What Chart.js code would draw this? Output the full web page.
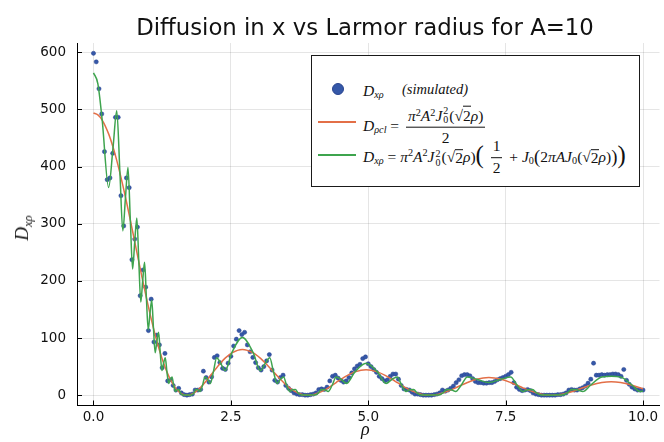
<!DOCTYPE html>
<html>
<head>
<meta charset="utf-8">
<script src="https://cdn.jsdelivr.net/npm/chart.js@4.4.1/dist/chart.umd.min.js"></script>
<style>
  html, body { margin: 0; padding: 0; background: #fff; }
  #wrap { position: relative; width: 664px; height: 442px; }
  #myChart { position: absolute; left: 0; top: 0; }
  .serif { font-family: "Liberation Serif", "DejaVu Serif", serif; color: #111; }
  .title { position: absolute; left: 73px; width: 584px; top: 14px; text-align: center;
           font-family: "DejaVu Sans", sans-serif; font-size: 22.8px; color: #111; white-space: nowrap; }
  .xlab { position: absolute; left: 361px; top: 419px; font-size: 18px; font-style: italic; }
  .ylab { position: absolute; left: 22px; top: 228px; font-size: 19px; transform: translate(-50%, -50%) rotate(-90deg); white-space: nowrap; }
  .legend { position: absolute; left: 311px; top: 55px; width: 329px; height: 132px; box-sizing: border-box;
            border: 1.4px solid #1a1a1a; background: #fff; font-size: 15.5px; }
  .row { position: absolute; display: flex; align-items: center; white-space: nowrap; transform: translateY(-50%); }
  .sb { font-size: 0.66em; position: relative; top: 0.35em; }
  .sp { font-size: 0.66em; position: relative; top: -0.45em; }
  .ss { display: inline-block; position: relative; width: 7px; height: 15px; vertical-align: baseline; }
  .ss span { position: absolute; left: 1px; font-size: 10px; line-height: 1; }
  .ss .u { top: 0px; }
  .ss .l { top: 9px; }
  .fr { display: inline-flex; flex-direction: column; align-items: center; margin: 0 3px; }
  .fr > span:first-child { border-bottom: 1px solid #111; padding: 0 2px 2px; line-height: 1.15; }
  .fr > span:last-child { line-height: 1.15; padding-top: 1px; }
  .ov { border-top: 1px solid #111; line-height: 1; }
  .big { font-size: 1.6em; line-height: 1; position: relative; top: -1px; }
  .mid { font-size: 1.2em; line-height: 1; }
  .sw { position: absolute; height: 2px; }
  .dot { position: absolute; width: 12px; height: 12px; border-radius: 50%; background: #3558a8; box-sizing: border-box; border: 1px solid #2a4590; }
</style>
</head>
<body>
<div id="wrap">
  <canvas id="myChart" width="664" height="442"></canvas>
  <div class="title">Diffusion in x vs Larmor radius for A=10</div>
  <div class="serif xlab">ρ</div>
  <div class="serif ylab"><i>D</i><span class="sb"><i>xρ</i></span></div>
  <div class="serif legend">
    <div class="dot" style="left:19.7px; top:27.3px;"></div>
    <div class="row" style="left:51px; top:35px;"><i>D</i><span class="sb"><i>xρ</i></span></div>
    <div class="row" style="left:90px; top:33px; font-size:14.5px;"><i>(simulated)</i></div>

    <div class="sw" style="left:6px; width:38px; top:65px; background:#e36f47;"></div>
    <div class="row" style="left:51px; top:70px;">
      <i>D</i><span class="sb"><i>ρcl</i></span>&nbsp;=&nbsp;
      <span class="fr"><span><i>π</i><span class="sp">2</span><i>A</i><span class="sp">2</span><i>J</i><span class="ss"><span class="u">2</span><span class="l">0</span></span>(√<span class="ov">2</span><i>ρ</i>)</span><span>2</span></span>
    </div>

    <div class="sw" style="left:6px; width:38px; top:98px; background:#3ea44e;"></div>
    <div class="row" style="left:51px; top:101px;">
      <i>D</i><span class="sb"><i>xρ</i></span>&nbsp;=&nbsp;<i>π</i><span class="sp">2</span><i>A</i><span class="sp">2</span><i>J</i><span class="ss"><span class="u">2</span><span class="l">0</span></span>(√<span class="ov">2</span><i>ρ</i>)<span class="big">(</span>&nbsp;
      <span class="fr"><span>1</span><span>2</span></span>&nbsp;+&nbsp;<i>J</i><span class="sb">0</span><span class="mid">(</span>2<i>πAJ</i><span class="sb">0</span>(√<span class="ov">2</span><i>ρ</i>)<span class="mid">)</span><span class="big">)</span>
    </div>
  </div>
</div>

<script>
// simulated points
var rhoSim = [
  0, 0.05, 0.1, 0.15, 0.2, 0.25, 0.3, 0.35, 0.4, 0.45, 0.5, 0.55, 0.6, 0.65, 0.7, 0.75, 0.8, 0.85, 0.9, 0.95,
  1, 1.05, 1.1, 1.15, 1.2, 1.25, 1.3, 1.35, 1.4, 1.45, 1.5, 1.55, 1.6, 1.65, 1.7, 1.75, 1.8, 1.85, 1.9, 1.95,
  2, 2.05, 2.1, 2.15, 2.2, 2.25, 2.3, 2.35, 2.4, 2.45, 2.5, 2.55, 2.6, 2.65, 2.7, 2.75, 2.8, 2.85, 2.9, 2.95,
  3, 3.05, 3.1, 3.15, 3.2, 3.25, 3.3, 3.35, 3.4, 3.45, 3.5, 3.55, 3.6, 3.65, 3.7, 3.75, 3.8, 3.85, 3.9, 3.95,
  4, 4.05, 4.1, 4.15, 4.2, 4.25, 4.3, 4.35, 4.4, 4.45, 4.5, 4.55, 4.6, 4.65, 4.7, 4.75, 4.8, 4.85, 4.9, 4.95,
  5, 5.05, 5.1, 5.15, 5.2, 5.25, 5.3, 5.35, 5.4, 5.45, 5.5, 5.55, 5.6, 5.65, 5.7, 5.75, 5.8, 5.85, 5.9, 5.95,
  6, 6.05, 6.1, 6.15, 6.2, 6.25, 6.3, 6.35, 6.4, 6.45, 6.5, 6.55, 6.6, 6.65, 6.7, 6.75, 6.8, 6.85, 6.9, 6.95,
  7, 7.05, 7.1, 7.15, 7.2, 7.25, 7.3, 7.35, 7.4, 7.45, 7.5, 7.55, 7.6, 7.65, 7.7, 7.75, 7.8, 7.85, 7.9, 7.95,
  8, 8.05, 8.1, 8.15, 8.2, 8.25, 8.3, 8.35, 8.4, 8.45, 8.5, 8.55, 8.6, 8.65, 8.7, 8.75, 8.8, 8.85, 8.9, 8.95,
  9, 9.05, 9.1, 9.15, 9.2, 9.25, 9.3, 9.35, 9.4, 9.45, 9.5, 9.55, 9.6, 9.65, 9.7, 9.75, 9.8, 9.85, 9.9, 9.95,
  10
];
var dSim = [
  598, 583, 536, 492, 426, 377, 380, 423, 486, 486, 349, 296, 380, 363, 237, 273, 294, 174, 219, 189,
  113, 168, 93, 105, 88, 48, 73, 25, 27, 17, 9, 12, 4, 1, 0, 1, 2, 9, 9, 10,
  42, 31, 23, 32, 66, 69, 57, 47, 45, 56, 68, 86, 98, 113, 106, 110, 88, 76, 66, 57,
  48, 44, 50, 60, 71, 44, 26, 23, 31, 35, 17, 12, 8, 4, 2, 1, 1, 0, 0, 1,
  2, 4, 10, 11, 10, 14, 25, 33, 35, 30, 26, 23, 25, 31, 39, 46, 51, 54, 64, 67,
  55, 50, 45, 40, 33, 29, 25, 27, 33, 37, 37, 28, 17, 11, 10, 9, 5, 2, 2, 1,
  0, 0, 0, 0, 1, 2, 4, 9, 7, 9, 12, 16, 22, 27, 34, 36, 36, 34, 29, 24,
  22, 22, 21, 21, 22, 22, 24, 27, 29, 31, 33, 36, 40, 22, 14, 10, 8, 9, 10, 8,
  4, 2, 1, 0, 0, 0, 0, 0, 0, 1, 1, 2, 4, 9, 10, 9, 9, 11, 13, 16,
  21, 28, 56, 35, 35, 36, 35, 36, 36, 37, 37, 36, 33, 45, 26, 19, 14, 11, 9, 9,
  9
];

// theory curves, sampled at their turning points
var rhoCurve = [
  0, 0.08, 0.1582, 0.2755, 0.3563, 0.4233, 0.4812, 0.5341, 0.5823, 0.6279, 0.6705, 0.7116, 0.7506, 0.7887,
  0.825, 0.861, 0.8955, 0.9297, 0.9628, 0.9959, 1.0278, 1.06, 1.0913, 1.1228, 1.1535, 1.1846, 1.2148, 1.2457,
  1.2757, 1.3066, 1.3365, 1.3675, 1.3974, 1.4288, 1.4589, 1.4908, 1.5212, 1.554, 1.5847, 1.6193, 1.6494, 1.7004,
  1.7534, 1.7858, 1.8251, 1.861, 1.9017, 1.9409, 1.9846, 2.0278, 2.0762, 2.1257, 2.1817, 2.2417, 2.3126, 2.3963,
  2.5171, 2.7094, 2.9075, 3.0354, 3.1273, 3.207, 3.2759, 3.3415, 3.4007, 3.4597, 3.5137, 3.5691, 3.6201, 3.6741,
  3.723, 3.778, 3.8245, 3.9033, 3.984, 4.0328, 4.0926, 4.1473, 4.2102, 4.2719, 4.3426, 4.4161, 4.5038, 4.6057,
  4.7577, 4.9608, 5.1669, 5.3247, 5.4326, 5.5271, 5.6076, 5.6858, 5.7553, 5.827, 5.8906, 5.961, 6.0199, 6.1191,
  6.22, 6.2817, 6.357, 6.4268, 6.5087, 6.5913, 6.6908, 6.804, 6.9738, 7.1938, 7.4158, 7.5908, 7.7094, 7.8144,
  7.9025, 7.9902, 8.0659, 8.1486, 8.2174, 8.3378, 8.4557, 8.5277, 8.6169, 8.7005, 8.8002, 8.9058, 9.0441, 9.251,
  9.4213, 9.5916, 9.8035, 9.9464, 10
];
var dPcl = [
  493.5, 490.3, 481.3, 457.1, 433.8, 410.8, 388.7, 367.0, 346.2, 325.7, 306.1, 286.8, 268.4, 250.4,
  233.3, 216.5, 200.6, 185.0, 170.4, 156.1, 142.6, 129.5, 117.3, 105.5, 94.5, 83.9, 74.1, 64.8,
  56.2, 48.1, 40.8, 33.9, 27.9, 22.2, 17.4, 12.9, 9.4, 6.2, 3.8, 1.8, 0.7, 0,
  0.7, 1.8, 3.8, 6.2, 9.4, 12.9, 17.4, 22.2, 27.9, 33.9, 40.8, 48.1, 56.2, 64.8,
  74.1, 80.1, 74.1, 64.8, 56.2, 48.1, 40.8, 33.9, 27.9, 22.2, 17.4, 12.9, 9.4, 6.2,
  3.8, 1.8, 0.7, 0, 0.7, 1.8, 3.8, 6.2, 9.4, 12.9, 17.4, 22.2, 27.9, 33.9,
  40.8, 44.5, 40.8, 33.9, 27.9, 22.2, 17.4, 12.9, 9.4, 6.2, 3.8, 1.8, 0.7, 0,
  0.7, 1.8, 3.8, 6.2, 9.4, 12.9, 17.4, 22.2, 27.9, 30.8, 27.9, 22.2, 17.4, 12.9,
  9.4, 6.2, 3.8, 1.8, 0.7, 0, 0.7, 1.8, 3.8, 6.2, 9.4, 12.9, 17.4, 22.2,
  23.5, 22.2, 17.4, 12.9, 11.2
];
var dXp = [
  563.8, 544.7, 481.3, 363.3, 433.8, 497.4, 388.7, 287.4, 346.2, 398.4, 306.1, 220.7, 268.4, 310.1,
  233.3, 162.9, 200.6, 232.6, 170.4, 114.2, 142.6, 165.9, 117.3, 74.3, 94.5, 110.2, 74.1, 43.1,
  56.2, 65.4, 40.8, 20.6, 27.9, 31.9, 17.4, 6.5, 9.4, 9.8, 3.8, 0.4, 0.7, 0,
  0.7, 0.4, 3.8, 9.8, 9.4, 6.5, 17.4, 31.9, 27.9, 20.6, 40.8, 65.4, 56.2, 43.1,
  74.1, 100.8, 74.1, 43.1, 56.2, 65.4, 40.8, 20.6, 27.9, 31.9, 17.4, 6.5, 9.4, 9.8,
  3.8, 0.4, 0.7, 0, 0.7, 0.4, 3.8, 9.8, 9.4, 6.5, 17.4, 31.9, 27.9, 20.6,
  40.8, 56.0, 40.8, 20.6, 27.9, 31.9, 17.4, 6.5, 9.4, 9.8, 3.8, 0.4, 0.7, 0,
  0.7, 0.4, 3.8, 9.8, 9.4, 6.5, 17.4, 31.9, 27.9, 22.2, 27.9, 31.9, 17.4, 6.5,
  9.4, 9.8, 3.8, 0.4, 0.7, 0, 0.7, 0.4, 3.8, 9.8, 9.4, 6.5, 17.4, 31.9,
  33.0, 31.9, 17.4, 6.5, 7.0
];

var xTicks = [0, 2.5, 5, 7.5, 10];
var yTicks = [0, 100, 200, 300, 400, 500, 600];

var blue = '#3558a8';
var orange = '#e36f47';
var green = '#3ea44e';

function toPoints(xs, ys) {
    return xs.map(function (x, i) { return { x: x, y: ys[i] }; });
}

// small inward tick marks like the original axes
var innerTicks = {
    id: 'innerTicks',
    afterDraw: function (chart) {
        var ctx = chart.ctx;
        var area = chart.chartArea;
        var x = chart.scales.x, y = chart.scales.y;
        ctx.save();
        ctx.strokeStyle = '#000';
        ctx.lineWidth = 1;
        xTicks.forEach(function (v) {
            var px = Math.round(x.getPixelForValue(v)) + 0.5;
            ctx.beginPath(); ctx.moveTo(px, area.bottom); ctx.lineTo(px, area.bottom - 5); ctx.stroke();
        });
        yTicks.forEach(function (v) {
            var py = Math.round(y.getPixelForValue(v)) + 0.5;
            ctx.beginPath(); ctx.moveTo(area.left, py); ctx.lineTo(area.left + 5, py); ctx.stroke();
        });
        ctx.restore();
    }
};

var tickFont = { family: 'DejaVu Sans', size: 13.5 };

var ctx = document.getElementById('myChart').getContext('2d');
var myChart = new Chart(ctx, {
    type: 'scatter',
    data: {
        datasets: [{
            label: 'simulated',
            data: toPoints(rhoSim, dSim),
            showLine: false,
            pointRadius: 2.1,
            pointBackgroundColor: blue,
            pointBorderColor: '#2a4590',
            pointBorderWidth: 0.5,
            order: 3
        }, {
            label: 'D_pcl',
            data: toPoints(rhoCurve, dPcl),
            showLine: true,
            pointRadius: 0,
            borderColor: orange,
            borderWidth: 1.5,
            cubicInterpolationMode: 'monotone',
            order: 2
        }, {
            label: 'D_xp',
            data: toPoints(rhoCurve, dXp),
            showLine: true,
            pointRadius: 0,
            borderColor: green,
            borderWidth: 1.5,
            cubicInterpolationMode: 'monotone',
            order: 1
        }]
    },
    options: {
        responsive: false,
        animation: false,
        devicePixelRatio: 1,
        layout: { padding: { top: 43, left: 0, right: 3, bottom: 0 } },
        plugins: { legend: { display: false }, tooltip: { enabled: false } },
        scales: {
            x: {
                type: 'linear', min: -0.3, max: 10.3,
                afterBuildTicks: function (s) { s.ticks = xTicks.map(function (v) { return { value: v }; }); },
                afterFit: function (s) { s.height = 36.5; },
                grid: { color: 'rgba(0,0,0,0.1)', drawTicks: false },
                border: { color: '#000', width: 1 },
                ticks: { padding: 4, color: '#111', font: tickFont, maxRotation: 0,
                         callback: function (v) { return Number(v).toFixed(1); } }
            },
            y: {
                type: 'linear', min: -18, max: 616,
                afterBuildTicks: function (s) { s.ticks = yTicks.map(function (v) { return { value: v }; }); },
                afterFit: function (s) { s.width = 77; },
                grid: { color: 'rgba(0,0,0,0.1)', drawTicks: false },
                border: { color: '#000', width: 1 },
                ticks: { padding: 11, color: '#111', font: tickFont,
                         callback: function (v) { return String(v); } }
            }
        }
    },
    plugins: [innerTicks]
});
</script>
</body>
</html>
